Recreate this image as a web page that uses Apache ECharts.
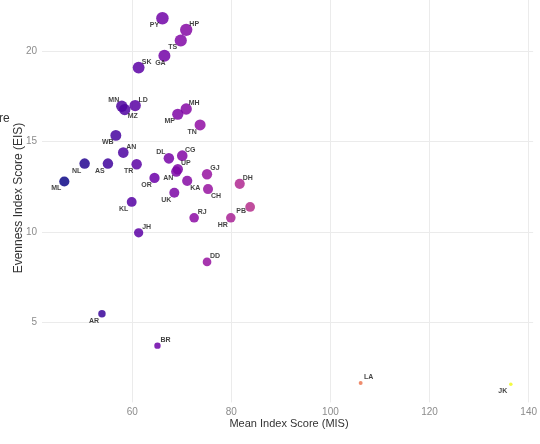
<!DOCTYPE html>
<html>
<head>
<meta charset="utf-8">
<script src="https://cdn.jsdelivr.net/npm/echarts@6/dist/echarts.min.js"></script>
<style>
  html, body { margin: 0; padding: 0; background: #fff; }
  #chart { width: 540px; height: 444px; }
</style>
</head>
<body>
<div id="chart"></div>
<script>
// state codes, mean index score (x) and evenness index score (y)
var states = ['PY','HP','TS','GA','SK','MN','MZ','LD','MH','MP','TN','WB','AN','DL','CG','UP','AN','NL','AS','TR','ML','OR','KA','GJ','CH','DH','UK','KL','PB','RJ','HR','JH','DD','AR','BR','LA','JK'];
var mis = [66.1,70.9,69.8,66.5,61.3,57.9,58.5,60.6,70.9,69.2,73.7,56.7,58.2,67.4,70.1,69.2,68.9,50.4,55.1,60.9,46.3,64.5,71.1,75.1,75.3,81.7,68.5,59.9,83.8,72.5,79.9,61.3,75.1,53.9,65.1,106.1,136.4];
var eis = [21.83,21.19,20.6,19.76,19.1,16.96,16.78,17.0,16.81,16.52,15.93,15.35,14.4,14.08,14.23,13.48,13.35,13.79,13.79,13.75,12.8,13.0,12.84,13.2,12.38,12.67,12.18,11.67,11.39,10.79,10.79,9.96,8.35,5.48,3.72,1.65,1.59];

// where each label sits next to its point (repel-style)
var labelSide = ['bl','tr','bl','b','tr','tl','br','tr','tr','bl','bl','bl','tr','tl','tr','tr','bl','bl','bl','bl','bl','bl','br','tr','br','tr','bl','bl','l','tr','bl','tr','tr','bl','tr','tr','bl'];
var sideOffset = { tr: [8, -6], tl: [-8, -6], bl: [-8, 7], br: [8, 7], b: [-4, 7], l: [-9, 4] };

var plasma = ['#0d0887','#41049d','#6a00a8','#8f0da4','#b12a90','#cc4778','#e16462','#f2844b','#fca636','#fcce25','#f0f921'];

var eisMin = Math.min.apply(null, eis), eisMax = Math.max.apply(null, eis);
var misMin = Math.min.apply(null, mis), misMax = Math.max.apply(null, mis);

var points = [];
for (var i = 0; i < states.length; i++) {
  points.push({
    name: states[i],
    value: [mis[i], eis[i]],
    label: { offset: sideOffset[labelSide[i]] }
  });
}

var myChart = echarts.init(document.getElementById('chart'));
var option = {
  animation: false,
  backgroundColor: '#fff',
  grid: { left: 42, top: -2.7, width: 495.5, height: 405.1 },
  xAxis: {
    type: 'value',
    min: 41.8,
    max: 140.9,
    splitNumber: 5,
    axisLine: { show: false },
    axisTick: { show: false },
    axisLabel: {
      showMinLabel: false, showMaxLabel: false,
      color: '#8c8c8c', fontSize: 10, margin: 5,
      fontFamily: 'Liberation Sans, Arial, sans-serif'
    },
    splitLine: { showMinLine: false, showMaxLine: false, lineStyle: { color: '#ebebeb', width: 1 } }
  },
  yAxis: {
    type: 'value',
    min: 0.58,
    max: 22.84,
    splitNumber: 5,
    axisLine: { show: false },
    axisTick: { show: false },
    axisLabel: {
      showMinLabel: false, showMaxLabel: false,
      color: '#8c8c8c', fontSize: 10, margin: 5,
      fontFamily: 'Liberation Sans, Arial, sans-serif'
    },
    splitLine: { showMinLine: false, showMaxLine: false, lineStyle: { color: '#ebebeb', width: 1 } }
  },
  visualMap: {
    show: false,
    type: 'continuous',
    dimension: 0,
    min: misMin,
    max: misMax,
    inRange: { color: plasma }
  },
  graphic: [
    {
      type: 'text', x: 289, y: 424,
      style: { text: 'Mean Index Score (MIS)', align: 'center', verticalAlign: 'middle',
        fill: '#333', font: '11px "Liberation Sans", Arial, sans-serif' }
    },
    {
      type: 'text', x: 19, y: 198, rotation: Math.PI / 2,
      style: { text: 'Evenness Index Score (EIS)', align: 'center', verticalAlign: 'middle',
        fill: '#333', font: '12px "Liberation Sans", Arial, sans-serif' }
    },
    {
      type: 'text', x: -1, y: 119,
      style: { text: 're', align: 'left', verticalAlign: 'middle',
        fill: '#333', font: '12px "Liberation Sans", Arial, sans-serif' }
    }
  ],
  series: [
    {
      type: 'scatter',
      data: points,
      symbolSize: function (val) {
        return 3.5 + 9 * Math.sqrt((val[1] - eisMin) / (eisMax - eisMin));
      },
      itemStyle: { opacity: 0.85 },
      label: {
        show: true,
        position: 'inside',
        formatter: '{b}',
        color: '#1e1e1e',
        fontSize: 7,
        fontWeight: 'bold',
        fontFamily: 'Liberation Sans, Arial, sans-serif'
      },
      emphasis: { disabled: true }
    }
  ]
};
myChart.setOption(option);
</script>
</body>
</html>
